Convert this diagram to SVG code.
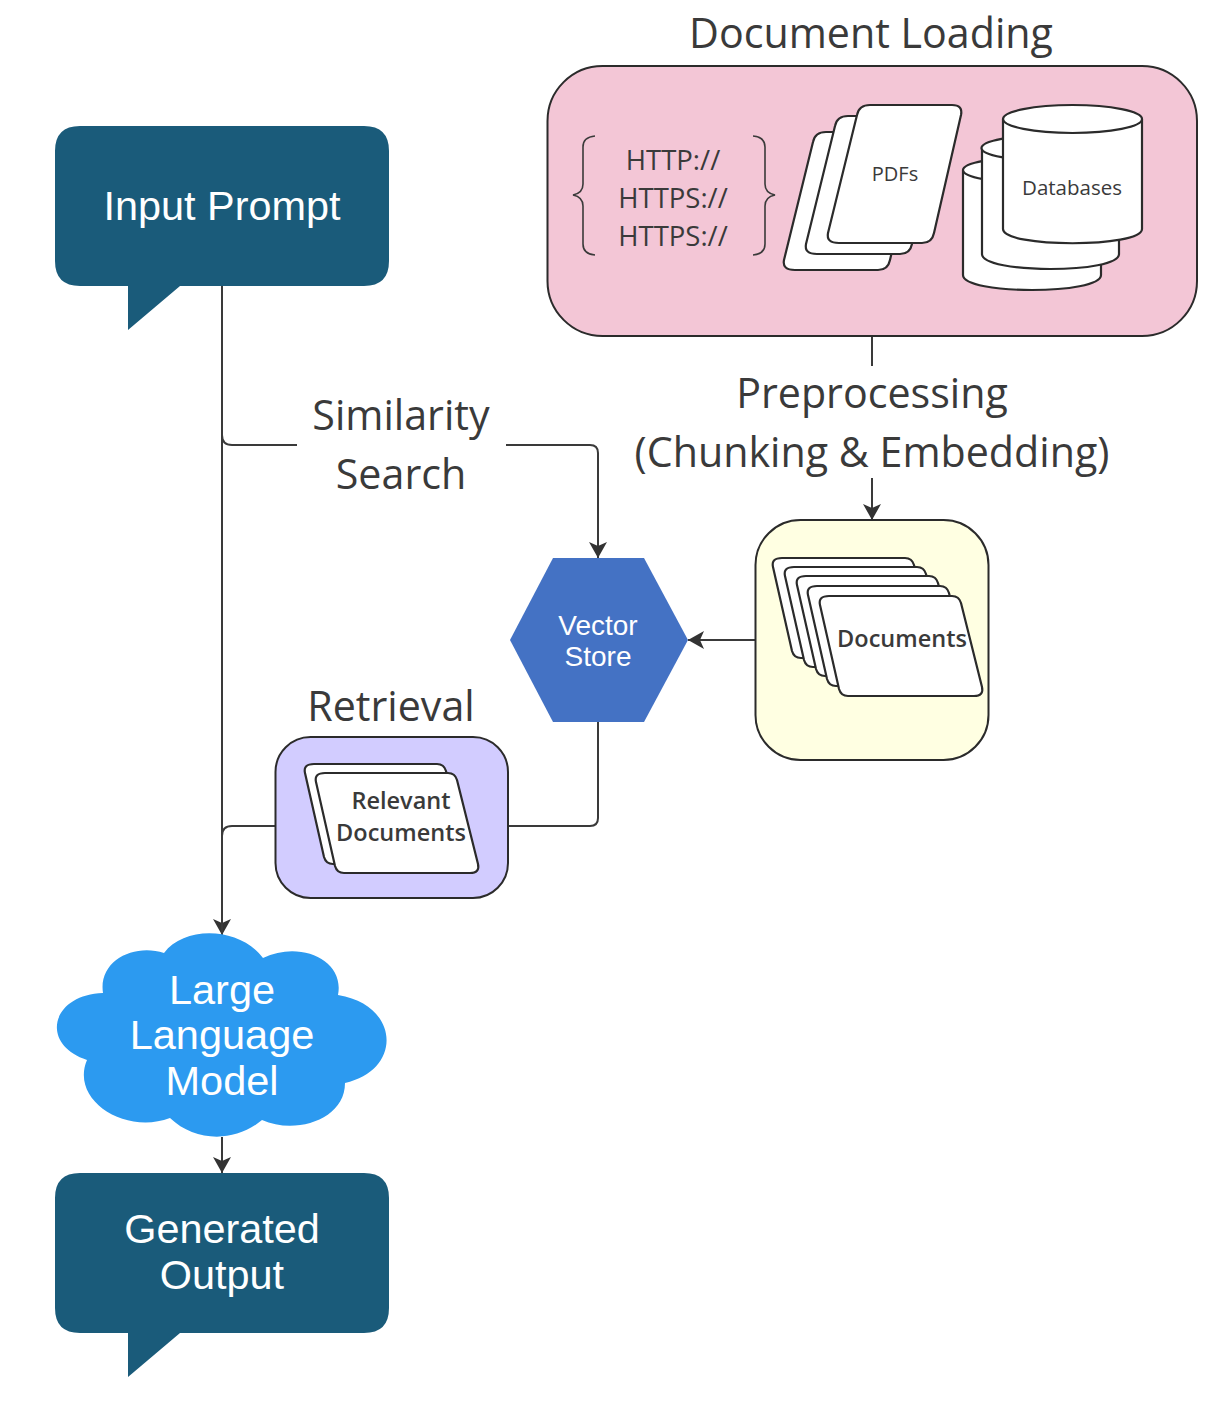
<svg xmlns="http://www.w3.org/2000/svg" width="1222" height="1423" viewBox="0 0 1222 1423">
<style>
.lab{font-family:"Open Sans","DejaVu Sans",sans-serif;fill:#3a3a3a;text-anchor:middle}
.big{font-size:41.2px}
.wh{font-family:"Liberation Sans",Arial,sans-serif;fill:#fff;text-anchor:middle}
.sh{fill:#fff;stroke:#2b2b2b;stroke-width:2.2;stroke-linejoin:round}
.box{stroke:#2b2b2b;stroke-width:2}
.con{fill:none;stroke:#3a3a3a;stroke-width:2}
.br{fill:none;stroke:#3a3a3a;stroke-width:1.6}
</style>
<defs>
<marker id="ah" markerUnits="userSpaceOnUse" markerWidth="20" markerHeight="20" refX="17" refY="9" orient="auto"><path d="M1 0L17 9L1 18L5 9Z" fill="#333"/></marker>
<path id="pdf" d="M10 0H92Q103 0 101 10L74 128Q72 138 62 138H-21Q-34 138 -32 128L-3 10Q-1 0 10 0Z"/>
<path id="doc" d="M9 0H132Q139 0 141 7L162 91Q164 100 154 100H28Q21 100 19 93L0 9Q-2 0 9 0Z"/>
</defs>
<rect width="1222" height="1423" fill="#fff"/>
<g id="connectors">
<path class="con" d="M222 286V445"/>
<path class="con" d="M222 435Q222 445 232 445H297"/>
<path class="con" d="M506 445H590Q598 445 598 453V558" marker-end="url(#ah)"/>
<path class="con" d="M872 336V366"/>
<path class="con" d="M872 478V520" marker-end="url(#ah)"/>
<path class="con" d="M755 640H688" marker-end="url(#ah)"/>
<path class="con" d="M598 722V818Q598 826 590 826H508"/>
<path class="con" d="M275 826H232Q222 826 222 836V935" marker-end="url(#ah)"/>
<path class="con" d="M222 445V935"/>
<path class="con" d="M222 1137V1173" marker-end="url(#ah)"/>
</g>
<g id="document-loading">
<text class="lab big" x="871" y="48">Document Loading</text>
<rect class="box" x="547.500" y="66" width="649.500" height="270" rx="55" fill="#f3c6d6"/>
<path class="br" d="M595 136Q583 137 583 147V184Q583 193 573 195Q583 197 583 206V244Q583 254 595 255"/>
<path class="br" d="M753 136Q765 137 765 147V184Q765 193 775 195Q765 197 765 206V244Q765 254 753 255"/>
<text class="lab" x="673" y="170" font-size="27.500">HTTP://</text>
<text class="lab" x="673" y="208" font-size="27.500">HTTPS://</text>
<text class="lab" x="673" y="246" font-size="27.500">HTTPS://</text>
</g>
<g id="pdfs">
<use href="#pdf" class="sh" x="816" y="132"/>
<use href="#pdf" class="sh" x="838" y="116"/>
<use href="#pdf" class="sh" x="860" y="105"/>
<text class="lab" x="895" y="181" font-size="20">PDFs</text>
</g>
<g id="databases">
<path class="sh" d="M963 170V275C963 295 1101 295 1101 275V170Z"/>
<ellipse class="sh" cx="1032" cy="170" rx="69" ry="13"/>
<path class="sh" d="M982 148V254C982 274 1119 274 1119 254V148Z"/>
<ellipse class="sh" cx="1050" cy="148" rx="68.500" ry="13"/>
<path class="sh" d="M1003 119V229C1003 248 1142 248 1142 229V119Z"/>
<ellipse class="sh" cx="1072.500" cy="119" rx="69.500" ry="14"/>
<text class="lab" x="1072" y="195" font-size="20.500">Databases</text>
</g>
<g id="input-prompt">
<path fill="#1a5b7a" d="M80 126H364Q389 126 389 151V261Q389 286 364 286H180L128 330V286H80Q55 286 55 261V151Q55 126 80 126Z"/>
<text class="wh" x="222" y="220" font-size="41.400">Input Prompt</text>
</g>
<g id="similarity-search">
<text class="lab big" x="401" y="430">Similarity</text>
<text class="lab big" x="401" y="489">Search</text>
</g>
<g id="preprocessing">
<text class="lab big" x="872" y="408">Preprocessing</text>
<text class="lab big" x="872" y="467">(Chunking &amp; Embedding)</text>
</g>
<g id="vector-store">
<path fill="#4472c4" d="M510 640L553 558H644L688 640L644 722H553Z"/>
<text class="wh" x="598" y="635" font-size="28">Vector</text>
<text class="wh" x="598" y="666" font-size="28">Store</text>
</g>
<g id="documents">
<rect class="box" x="755.500" y="520" width="233" height="240" rx="45" fill="#ffffe2"/>
<use href="#doc" class="sh" x="773" y="558"/>
<use href="#doc" class="sh" x="785" y="567"/>
<use href="#doc" class="sh" x="797" y="576"/>
<use href="#doc" class="sh" x="808" y="586"/>
<use href="#doc" class="sh" x="820" y="596"/>
<text class="lab" x="902" y="647" font-size="23.500" font-weight="600">Documents</text>
</g>
<g id="retrieval">
<text class="lab big" x="391" y="721">Retrieval</text>
<rect class="box" x="275.500" y="737" width="232.500" height="161" rx="35" fill="#d2ccff"/>
<use href="#doc" class="sh" x="305" y="764"/>
<use href="#doc" class="sh" x="316" y="773"/>
<text class="lab" x="401" y="809" font-size="23.500" font-weight="600">Relevant</text>
<text class="lab" x="401" y="841" font-size="23.500" font-weight="600">Documents</text>
</g>
<g id="llm">
<path fill="#2c9af0" d="M164 953C185 925 240 927 263 958C300 940 345 960 338 995C400 1005 403 1070 345 1083C345 1120 295 1135 262 1120C235 1143 195 1142 170 1118C125 1135 70 1100 87 1060C40 1045 50 995 103 993C98 960 135 943 164 953Z"/>
<text class="wh" x="222" y="1004" font-size="41.500">Large</text>
<text class="wh" x="222" y="1049" font-size="41.500">Language</text>
<text class="wh" x="222" y="1095" font-size="41.500">Model</text>
</g>
<g id="generated-output">
<path fill="#1a5b7a" d="M80 1173H364Q389 1173 389 1198V1308Q389 1333 364 1333H180L128 1377V1333H80Q55 1333 55 1308V1198Q55 1173 80 1173Z"/>
<text class="wh" x="222" y="1243" font-size="41.400">Generated</text>
<text class="wh" x="222" y="1289" font-size="41.400">Output</text>
</g>
</svg>
